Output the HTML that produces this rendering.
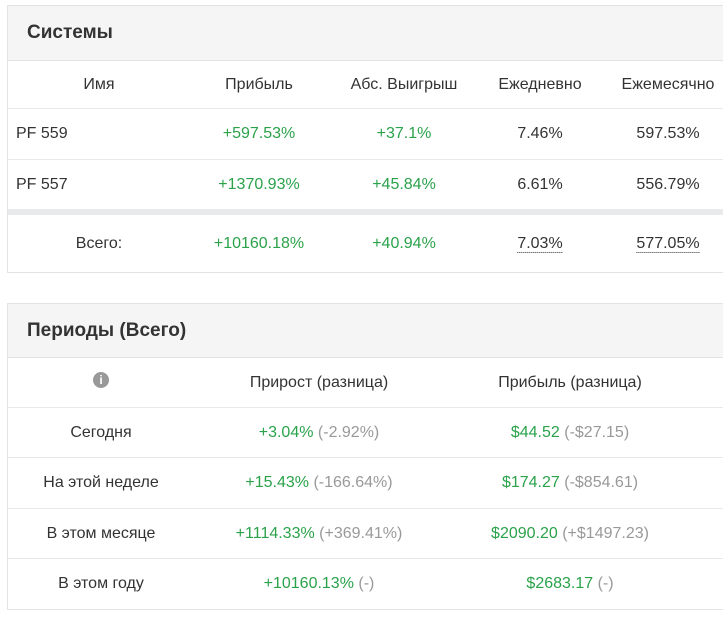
<!DOCTYPE html>
<html><head><meta charset="utf-8"><style>
body{margin:0;width:723px;height:630px;background:#fff;font-family:"Liberation Sans",sans-serif;color:#333;overflow:hidden;position:relative}
.panel{position:absolute;left:7px;width:730px;border:1px solid #e3e3e3;border-right:none;background:#fff}
.ph{position:absolute;left:0;right:0;top:0;background:#f5f5f5;border-bottom:1px solid #e3e3e3}
.ph span{position:absolute;left:19px;font-weight:bold;font-size:19px;color:#333}
.row{position:absolute;left:0;right:0;border-bottom:1px solid #e8e8e8}
.c{position:absolute;top:50%;transform:translate(-50%,-50%);font-size:16px;white-space:nowrap}
.l{position:absolute;top:50%;transform:translateY(-50%);font-size:16px}
.g{color:#2aa24a}.m{color:#999}
.u{border-bottom:1px dotted #333;line-height:18px}
</style></head><body>
<div class="panel" style="top:5px;height:266px">
 <div class="ph" style="height:54px"><span style="top:16px">Системы</span></div>
 <div class="row" style="top:55px;height:47px">
  <div class="c" style="left:91px">Имя</div><div class="c" style="left:251px">Прибыль</div><div class="c" style="left:396px">Абс. Выигрыш</div><div class="c" style="left:532px">Ежедневно</div><div class="c" style="left:660px">Ежемесячно</div></div>
 <div class="row" style="top:103px;height:50px">
  <div class="l" style="left:8px">PF 559</div><div class="c g" style="left:251px">+597.53%</div><div class="c g" style="left:396px">+37.1%</div><div class="c" style="left:532px">7.46%</div><div class="c" style="left:660px">597.53%</div></div>
 <div class="row" style="top:154px;height:49px;border-bottom:6px solid #e8eaeb">
  <div class="l" style="left:8px">PF 557</div><div class="c g" style="left:251px">+1370.93%</div><div class="c g" style="left:396px">+45.84%</div><div class="c" style="left:532px">6.61%</div><div class="c" style="left:660px">556.79%</div></div>
 <div class="row" style="top:210px;height:56px;border:none">
  <div class="c" style="left:91px">Всего:</div><div class="c g" style="left:251px">+10160.18%</div><div class="c g" style="left:396px">+40.94%</div><div class="c"style="left:532px"><span class="u">7.03%</span></div><div class="c" style="left:660px"><span class="u">577.05%</span></div></div>
</div>
<div class="panel" style="top:303px;height:305px">
 <div class="ph" style="height:53px"><span style="top:16px">Периоды (Всего)</span></div>
 <div class="row" style="top:54px;height:49px">
  <div class="c" style="left:93px;top:45%;width:16px;height:16px;border-radius:50%;background:#999;color:#fff;font-size:12px;font-weight:bold;text-align:center;line-height:16px">i</div>
  <div class="c" style="left:311px">Прирост (разница)</div><div class="c" style="left:562px">Прибыль (разница)</div></div>
 <div class="row" style="top:104px;height:49px">
  <div class="c" style="left:93px">Сегодня</div><div class="c" style="left:311px"><span class="g">+3.04%</span> <span class="m">(-2.92%)</span></div><div class="c" style="left:562px"><span class="g">$44.52</span> <span class="m">(-$27.15)</span></div></div>
 <div class="row" style="top:154px;height:50px">
  <div class="c" style="left:93px">На этой неделе</div><div class="c" style="left:311px"><span class="g">+15.43%</span> <span class="m">(-166.64%)</span></div><div class="c" style="left:562px"><span class="g">$174.27</span> <span class="m">(-$854.61)</span></div></div>
 <div class="row" style="top:205px;height:49px">
  <div class="c" style="left:93px">В этом месяце</div><div class="c" style="left:311px"><span class="g">+1114.33%</span> <span class="m">(+369.41%)</span></div><div class="c" style="left:562px"><span class="g">$2090.20</span> <span class="m">(+$1497.23)</span></div></div>
 <div class="row" style="top:255px;height:50px;border:none">
  <div class="c" style="left:93px">В этом году</div><div class="c" style="left:311px"><span class="g">+10160.13%</span> <span class="m">(-)</span></div><div class="c" style="left:562px"><span class="g">$2683.17</span> <span class="m">(-)</span></div></div>
</div>
</body></html>
